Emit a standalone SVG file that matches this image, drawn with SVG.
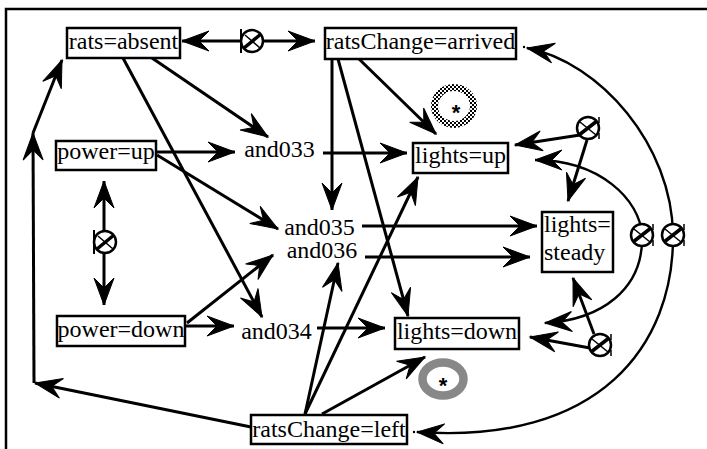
<svg xmlns="http://www.w3.org/2000/svg" width="707" height="449" viewBox="0 0 707 449" font-family="'Liberation Serif', 'Times New Roman', serif" font-size="24">
  <defs>
    <style>
      .lbl { text-anchor: middle; }
      .box { fill: #fff; stroke: #000; stroke-width: 2.5; }
      .edge { fill: none; stroke: #000; stroke-width: 3; marker-end: url(#arr); }
      .both { marker-start: url(#arr); }
      .arc { stroke-width: 2.4; }
      .xs { fill: none; stroke: #000; }
    </style>
    <!-- barbed arrowhead, tip at the path end -->
    <marker id="arr" markerUnits="userSpaceOnUse" viewBox="-30 -15 32 30" markerWidth="32" markerHeight="30" refX="0" refY="0" orient="auto-start-reverse">
      <path d="M0,0 L-27,-10 L-17,0 L-27,10 Z" fill="#000" stroke="#000" stroke-width="1" stroke-linejoin="miter"/>
    </marker>
    <!-- exclusive-or junction -->
    <g id="xor">
      <circle r="11" fill="#fff" stroke="#000" stroke-width="2.5"/>
      <path class="xs" d="M-8,7 L9,-7" stroke-width="3.5"/>
      <path class="xs" d="M-7,-6 L8,7" stroke-width="1.5"/>
      <path class="xs" d="M-11,-12 L-11,12" stroke-width="2"/>
    </g>
    <g id="xorR">
      <circle r="11" fill="#fff" stroke="#000" stroke-width="2.5"/>
      <path class="xs" d="M-9,7 L9,-7" stroke-width="3.5"/>
      <path class="xs" d="M-8,-6 L8,7" stroke-width="1.5"/>
      <path class="xs" d="M11,-11 L11,-5 M11,5 L11,11" stroke-width="1.5"/>
    </g>
    <pattern id="dith" width="4" height="4" patternUnits="userSpaceOnUse">
      <rect width="4" height="4" fill="#fff"/>
      <rect width="2" height="2" fill="#000"/>
      <rect x="2" y="2" width="2" height="2" fill="#000"/>
    </pattern>
  </defs>

  <!-- frame -->
  <rect x="6" y="9" width="800" height="500" fill="none" stroke="#000" stroke-width="2.5"/>

  <g id="connectors">
    <path class="edge both" stroke-width="2" d="M182,41 L315,41"/>
    <path class="edge" d="M152,58 L268,137"/>
    <path class="edge" d="M123,58 L262,317"/>
    <path class="edge" d="M358,58 L436,134"/>
    <path class="edge" d="M332,59 L332,210"/>
    <path class="edge" d="M338,59 L408,316"/>
    <path class="edge" d="M156,152 L235,152"/>
    <path class="edge" d="M157,155 L278,229"/>
    <path class="edge both" stroke-width="2.4" d="M104,181 L104,305"/>
    <path class="edge" d="M185,326 L234,326"/>
    <path class="edge" d="M187,323 L273,255"/>
    <path class="edge" d="M323,153 L407,153"/>
    <path class="edge" d="M362,226 L537,226"/>
    <path class="edge" d="M365,257 L530,257"/>
    <path class="edge" d="M317,328 L385,328"/>
    <path class="edge" d="M251,427 L35,383"/>
    <path class="edge" d="M34,383 L33,133"/>
    <path class="edge" d="M33,133 L62,60"/>
    <path class="edge" d="M305,414 L338,263"/>
    <path class="edge" d="M305,414 L418,177"/>
    <path class="edge" d="M322,414 L425,357"/>
    <path class="edge" stroke-width="2.6" d="M580,135 L515,145"/>
    <path class="edge" stroke-width="2.6" d="M587,140 L568,201"/>
    <path class="edge" stroke-width="2.6" d="M594,334 L573,278"/>
    <path class="edge" stroke-width="2.6" d="M590,348 L530,337"/>
    <path class="edge both arc" d="M535,160 C600,160 640,200 642,235 C644,290 600,320 545,323"/>
    <path class="edge both arc" d="M527,48 C600,62 672,145 673,235 C674,345 600,445 417,432"/>
    <circle cx="524" cy="47" r="1.2"/>
    <circle cx="414" cy="432" r="1.2"/>
    <use href="#xor" x="252" y="41"/>
    <use href="#xor" x="105" y="242"/>
    <use href="#xorR" x="588" y="128"/>
    <use href="#xorR" x="642" y="235"/>
    <use href="#xorR" x="673" y="235"/>
    <use href="#xorR" x="600" y="345"/>
  </g>

  <g id="n-rats-absent">
    <rect class="box" x="67" y="28" width="113" height="30"/>
    <text class="lbl" x="123.5" y="49">rats=absent</text>
  </g>
  <g id="n-rats-change-arrived">
    <rect class="box" x="325" y="28" width="191" height="31"/>
    <text class="lbl" x="420.5" y="49">ratsChange=arrived</text>
  </g>
  <g id="n-power-up">
    <rect class="box" x="56" y="141" width="100" height="29"/>
    <text class="lbl" x="106" y="159">power=up</text>
  </g>
  <g id="n-power-down">
    <rect class="box" x="57" y="316" width="128" height="30"/>
    <text class="lbl" x="121" y="337">power=down</text>
  </g>
  <g id="n-lights-up">
    <rect class="box" x="413" y="143" width="95" height="30"/>
    <text class="lbl" x="460.5" y="163">lights=up</text>
  </g>
  <g id="n-lights-steady">
    <rect class="box" x="542" y="212" width="71" height="60"/>
    <text x="544" y="232">lights=</text>
    <text x="544" y="260">steady</text>
  </g>
  <g id="n-lights-down">
    <rect class="box" x="395" y="318" width="124" height="31"/>
    <text class="lbl" x="457" y="339">lights=down</text>
  </g>
  <g id="n-rats-change-left">
    <rect class="box" x="251" y="415" width="156" height="29"/>
    <text class="lbl" x="329" y="437">ratsChange=left</text>
  </g>
  <g id="n-and033"><text class="lbl" x="279.5" y="157">and033</text></g>
  <g id="n-and035"><text class="lbl" x="319.5" y="235">and035</text></g>
  <g id="n-and036"><text class="lbl" x="322" y="258">and036</text></g>
  <g id="n-and034"><text class="lbl" x="276.5" y="339">and034</text></g>

  <g id="mark-lights-up">
    <ellipse cx="454" cy="106" rx="19.5" ry="18.5" fill="none" stroke="url(#dith)" stroke-width="7"/>
    <text class="lbl" x="456" y="120" font-family="'Liberation Sans', Arial, sans-serif" font-weight="bold" font-size="22">*</text>
  </g>
  <g id="mark-lights-down">
    <ellipse cx="443" cy="379" rx="20.5" ry="16.5" fill="none" stroke="#888" stroke-width="8.5"/>
    <text class="lbl" x="443" y="392.5" font-family="'Liberation Sans', Arial, sans-serif" font-weight="bold" font-size="22">*</text>
  </g>
</svg>
